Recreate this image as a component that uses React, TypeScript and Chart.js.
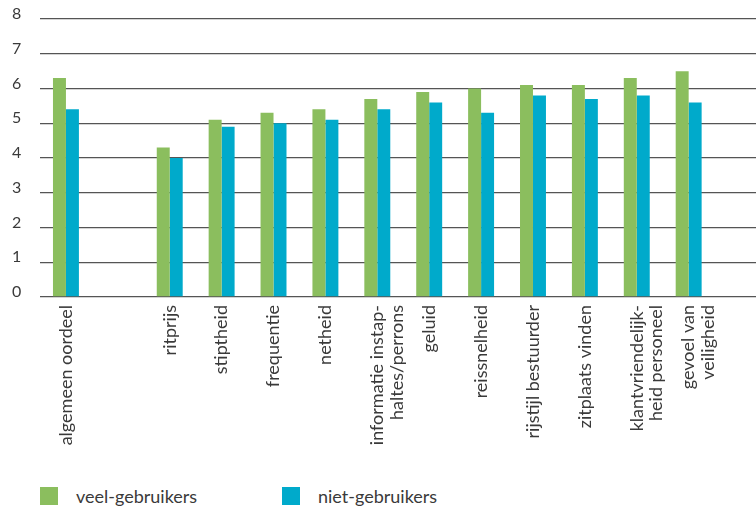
import React, { useEffect, useRef } from "react";
import { Chart, registerables } from "chart.js";

Chart.register(...registerables);

const categories: (string | string[])[] = [
  "algemeen oordeel",
  "",
  "ritprijs",
  "stiptheid",
  "frequentie",
  "netheid",
  ["informatie instap-", "haltes/perrons"],
  "geluid",
  "reissnelheid",
  "rijstijl bestuurder",
  "zitplaats vinden",
  ["klantvriendelijk-", "heid personeel"],
  ["gevoel van", "veiligheid"],
  "",
];

const veelGebruikers = [6.3, null, 4.3, 5.1, 5.3, 5.4, 5.7, 5.9, 6.0, 6.1, 6.1, 6.3, 6.5, null];
const nietGebruikers = [5.4, null, 4.0, 4.9, 5.0, 5.1, 5.4, 5.6, 5.3, 5.8, 5.7, 5.8, 5.6, null];

const seriesNames = ["veel-gebruikers", "niet-gebruikers"];
const seriesColors = ["#8BBE5E", "#00AACB"];
const yTicks = [0, 1, 2, 3, 4, 5, 6, 7, 8];

const FONT = "Lato, 'DejaVu Sans', sans-serif";
const TEXT = "#3a3a3a";

export default function App() {
  const ref = useRef<HTMLCanvasElement | null>(null);

  useEffect(() => {
    if (!ref.current) return;
    const chart = new Chart(ref.current, {
      type: "bar",
      data: {
        labels: categories,
        datasets: [
          {
            label: seriesNames[0],
            data: veelGebruikers,
            backgroundColor: seriesColors[0],
            categoryPercentage: 0.5,
            barPercentage: 1.0,
          },
          {
            label: seriesNames[1],
            data: nietGebruikers,
            backgroundColor: seriesColors[1],
            categoryPercentage: 0.5,
            barPercentage: 1.0,
          },
        ],
      },
      options: {
        animation: false,
        responsive: true,
        maintainAspectRatio: false,
        layout: { padding: { left: 12, top: 19, right: 0, bottom: 0 } },
        plugins: {
          legend: { display: false },
          tooltip: { enabled: false },
        },
        scales: {
          x: {
            grid: { display: false, drawTicks: false },
            border: { display: false },
            ticks: {
              autoSkip: false,
              minRotation: 90,
              maxRotation: 90,
              padding: 8,
              color: TEXT,
              font: { family: FONT, size: 18, lineHeight: 1.08 },
            },
            afterFit: (scale: any) => {
              scale.height = 173;
            },
          },
          y: {
            min: 0,
            max: 8,
            afterBuildTicks: (scale: any) => {
              scale.ticks = yTicks.map((v) => ({ value: v }));
            },
            grid: { color: "#555555", lineWidth: 1.3, drawTicks: false },
            border: { display: false },
            ticks: {
              padding: 0,
              crossAlign: "far",
              labelOffset: -5,
              color: TEXT,
              font: { family: FONT, size: 16 },
            },
            afterFit: (scale: any) => {
              scale.width = 28;
            },
          },
        },
      },
    });
    return () => chart.destroy();
  }, []);

  return (
    <div
      style={{
        position: "fixed",
        left: 0,
        top: 0,
        width: 756,
        height: 513,
        overflow: "hidden",
        background: "#fff",
        fontFamily: FONT,
      }}
    >
      <div style={{ position: "absolute", left: 0, top: 0, width: 768, height: 470 }}>
        <canvas ref={ref} />
      </div>
      {seriesNames.map((name, i) => (
        <div
          key={name}
          style={{
            position: "absolute",
            left: i === 0 ? 40 : 282,
            top: 487,
            height: 18,
            display: "flex",
            alignItems: "center",
            whiteSpace: "nowrap",
          }}
        >
          <span
            style={{
              display: "inline-block",
              width: 18,
              height: 18,
              background: seriesColors[i],
              marginRight: 18,
            }}
          />
          <span style={{ fontSize: 18, color: TEXT }}>{name}</span>
        </div>
      ))}
    </div>
  );
}
